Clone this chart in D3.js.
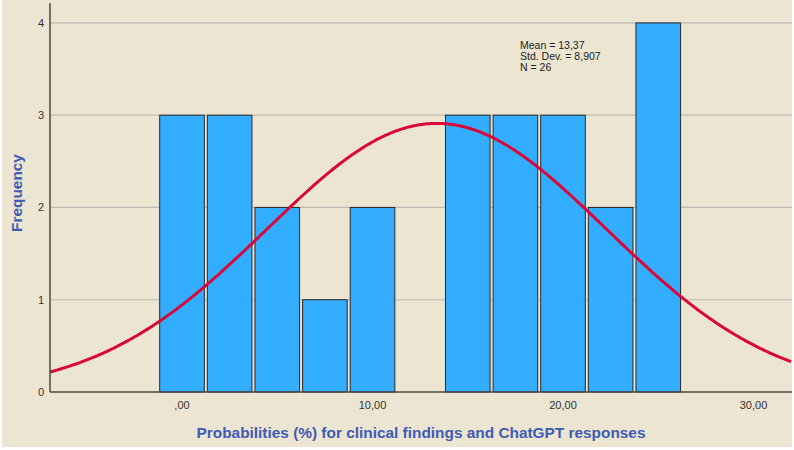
<!DOCTYPE html>
<html>
<head>
<meta charset="utf-8">
<script src="https://cdn.jsdelivr.net/npm/d3@7"></script>
<style>
  body { margin: 0; background: #fff; }
  svg { display: block; font-family: Arial, "Liberation Sans", sans-serif; }
</style>
</head>
<body>
<svg id="chart" width="794" height="450"></svg>
<script>
// histogram bins (centre of each bin) and counts
const binCenters = [0, 2.5, 5, 7.5, 10, 12.5, 15, 17.5, 20, 22.5, 25];
const counts = [3, 3, 2, 1, 2, 0, 3, 3, 3, 2, 4];
const binWidth = 2.5;
const xTicks = [0, 10, 20, 30];
const xTickLabels = [",00", "10,00", "20,00", "30,00"];
const yTicks = [0, 1, 2, 3, 4];
const stats = ["Mean = 13,37", "Std. Dev. = 8,907", "N = 26"];
const mean = 13.37, sd = 8.907, n = 26;

const svg = d3.select('#chart');
const plotLeft = 50, plotRight = 792, plotTop = 3, plotBottom = 392;

// outer background
svg.append('rect')
  .attr('x', 2).attr('y', 0)
  .attr('width', 790).attr('height', 447)
  .attr('fill', '#ECE5D2');

const x = d3.scaleLinear().domain([-6.93, 32.02]).range([plotLeft, plotRight]);
const y = d3.scaleLinear().domain([0, 4.216]).range([plotBottom, plotTop]);

// gridlines
svg.append('g')
  .selectAll('line')
  .data(yTicks.filter(d => d > 0))
  .enter()
  .append('line')
  .attr('x1', plotLeft).attr('x2', plotRight)
  .attr('y1', d => y(d)).attr('y2', d => y(d))
  .attr('stroke', '#BDBAB0')
  .attr('stroke-width', 1.2);

// bars
svg.append('g')
  .selectAll('rect')
  .data(binCenters.map((c, i) => ({ c, v: counts[i] })).filter(d => d.v > 0))
  .enter()
  .append('rect')
  .attr('x', d => x(d.c - binWidth / 2) + 1.5)
  .attr('width', d => x(d.c + binWidth / 2) - x(d.c - binWidth / 2) - 3)
  .attr('y', d => y(d.v))
  .attr('height', d => y(0) - y(d.v))
  .attr('fill', '#33ADFF')
  .attr('stroke', '#2A2A2A')
  .attr('stroke-width', 1);

// normal curve scaled to counts
const pdf = v => n * binWidth * Math.exp(-0.5 * ((v - mean) / sd) ** 2) / (sd * Math.sqrt(2 * Math.PI));
const curveX = d3.range(-6.93, 32.03, 0.1);
svg.append('path')
  .datum(curveX)
  .attr('d', d3.line().x(d => x(d)).y(d => y(pdf(d))))
  .attr('fill', 'none')
  .attr('stroke', '#D9073A')
  .attr('stroke-width', 3);

// axes lines
svg.append('line')
  .attr('x1', plotLeft).attr('x2', plotLeft)
  .attr('y1', plotTop).attr('y2', plotBottom)
  .attr('stroke', '#4A4A4A').attr('stroke-width', 1.5);
svg.append('line')
  .attr('x1', plotLeft).attr('x2', plotRight)
  .attr('y1', plotBottom).attr('y2', plotBottom)
  .attr('stroke', '#4A4A4A').attr('stroke-width', 1.5);

// y tick labels
svg.append('g')
  .selectAll('text')
  .data(yTicks)
  .enter()
  .append('text')
  .attr('x', 44)
  .attr('y', d => y(d) + 4)
  .attr('text-anchor', 'end')
  .attr('font-size', 11)
  .attr('fill', '#333')
  .text(d => d);

// x tick labels
svg.append('g')
  .selectAll('text')
  .data(xTicks)
  .enter()
  .append('text')
  .attr('x', d => x(d))
  .attr('y', 409)
  .attr('text-anchor', 'middle')
  .attr('font-size', 11)
  .attr('fill', '#333')
  .text((d, i) => xTickLabels[i]);

// stats box
svg.append('g')
  .selectAll('text')
  .data(stats)
  .enter()
  .append('text')
  .attr('x', 520)
  .attr('y', (d, i) => 49 + i * 11)
  .attr('font-size', 10.5)
  .attr('fill', '#222')
  .text(d => d);

// axis titles
svg.append('text')
  .attr('x', 421).attr('y', 438)
  .attr('text-anchor', 'middle')
  .attr('font-size', 15.4)
  .attr('font-weight', 'bold')
  .attr('fill', '#3F5BB5')
  .text('Probabilities (%) for clinical findings and ChatGPT responses');

svg.append('text')
  .attr('transform', 'translate(22,193) rotate(-90)')
  .attr('text-anchor', 'middle')
  .attr('font-size', 15.4)
  .attr('font-weight', 'bold')
  .attr('fill', '#3F5BB5')
  .text('Frequency');
</script>
</body>
</html>
